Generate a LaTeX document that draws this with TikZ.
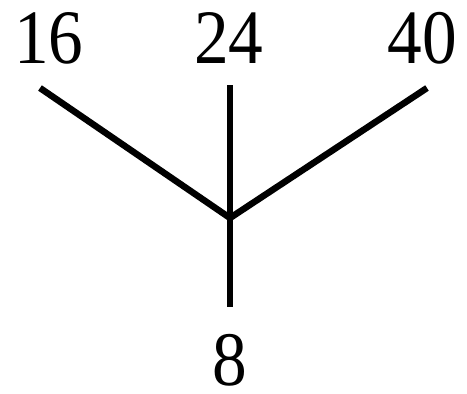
\documentclass[tikz,border=0pt]{standalone}
\usepackage{fontspec}
\setmainfont[FakeStretch=0.9]{Liberation Serif}
\begin{document}
\begin{tikzpicture}[x=1pt,y=-1pt,
  num/.style={anchor=base,inner sep=0pt,font=\fontsize{77}{77}\selectfont},
  edge/.style={line width=6.5pt}]
\useasboundingbox (0,0) rectangle (467,394);
\node[num] (n16) at (49,63) {16};
\node[num] (n24) at (229,63) {24};
\node[num] (n40) at (422,63) {40};
\node[num] (n8) at (230,385) {8};
\coordinate (a) at (40,88);
\coordinate (b) at (230,85);
\coordinate (c) at (427,88);
\coordinate (j) at (230,218);
\coordinate (d) at (230,307);
\draw[edge] (a) -- (j) -- (c);
\draw[edge] (b) -- (d);
\end{tikzpicture}
\end{document}
